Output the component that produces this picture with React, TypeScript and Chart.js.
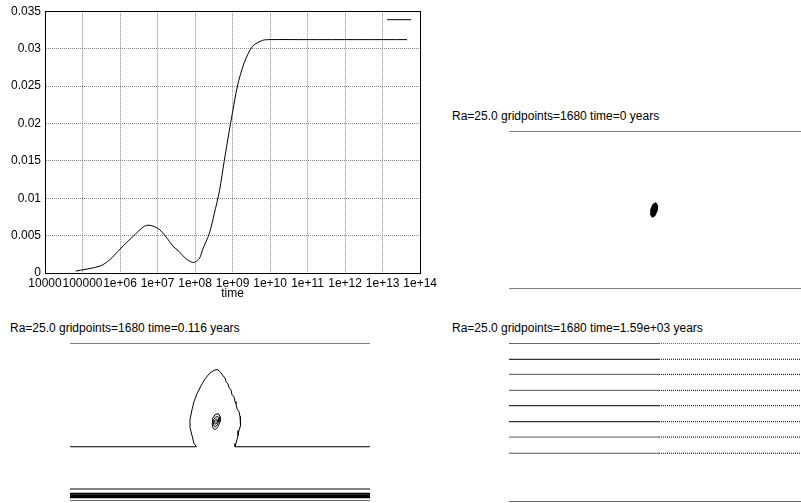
import React, { useEffect, useRef } from "react";
import { Chart, registerables } from "chart.js";

Chart.register(...registerables);

const FONT_FAMILY = "'Liberation Sans', Arial, Helvetica, sans-serif";

// ---------- Main time series ----------
const times = [6.6e4, 2.9e5, 5.4e5, 1e6, 2.24e6, 5.0e6, 1e7, 1.7e7, 2.57e7, 3.8e7, 5.75e7, 9.1e7, 1.32e8, 1.58e8, 2.4e8, 3.24e8, 4.47e8, 6.0e8, 8.1e8, 1e9, 1.35e9, 2.04e9, 3.4e9, 6.3e9, 1e10, 1e11, 4.47e13];
const values = [0.00026, 0.00092, 0.0018, 0.0032, 0.0049, 0.00636, 0.006, 0.0048, 0.0036, 0.00285, 0.0019, 0.0014, 0.002, 0.0031, 0.0053, 0.0079, 0.011, 0.015, 0.0189, 0.0215, 0.025, 0.0281, 0.0303, 0.0311, 0.0312, 0.0312, 0.0312];
const xTickValues = [1e4, 1e5, 1e6, 1e7, 1e8, 1e9, 1e10, 1e11, 1e12, 1e13, 1e14];
const xTickLabels = ["10000", "100000", "1e+06", "1e+07", "1e+08", "1e+09", "1e+10", "1e+11", "1e+12", "1e+13", "1e+14"];
const yTickValues = [0, 0.005, 0.01, 0.015, 0.02, 0.025, 0.03, 0.035];
const yTickLabels = ["0", "0.005", "0.01", "0.015", "0.02", "0.025", "0.03", "0.035"];
const xAxisTitle = "time";

// ---------- Contour panels ----------
const titleB = "Ra=25.0 gridpoints=1680 time=0 years";
const titleC = "Ra=25.0 gridpoints=1680 time=0.116 years";
const titleD = "Ra=25.0 gridpoints=1680 time=1.59e+03 years";

const xDomain = [0, 1];

// Panel B (time = 0)
const bBoundaryLevels = [1, 0];
const bBlob: [number, number][] = [
  [0.4893, 0.5465], [0.4951, 0.5292], [0.494, 0.4949], [0.4866, 0.4637],
  [0.4773, 0.4535], [0.4715, 0.4708], [0.4726, 0.5051], [0.48, 0.5363], [0.4893, 0.5465],
];

// Panel C (time = 0.116)
const cBoundaryLevels = [1, 0];
const cThinLevel = 0.0744;
const cBandLevels = [0.02, 0.027, 0.034, 0.041, 0.047];
const cMidContour: [number, number][] = [
  [0, 0.343], [0.4217, 0.343], [0.4133, 0.364], [0.4067, 0.415], [0.4, 0.465], [0.4, 0.516],
  [0.4067, 0.579], [0.4133, 0.63], [0.4233, 0.68], [0.4367, 0.731], [0.45, 0.775], [0.4667, 0.813],
  [0.48, 0.829], [0.49, 0.835], [0.4967, 0.826], [0.5033, 0.813], [0.51, 0.794], [0.5167, 0.782],
  [0.52, 0.756], [0.5267, 0.744], [0.53, 0.718], [0.5367, 0.706], [0.54, 0.674], [0.5467, 0.661],
  [0.55, 0.63], [0.5533, 0.617], [0.5567, 0.585], [0.5633, 0.566], [0.5667, 0.535], [0.57, 0.516],
  [0.5667, 0.478], [0.5633, 0.446], [0.56, 0.415], [0.5567, 0.389], [0.5533, 0.364], [0.55, 0.343],
  [1, 0.343],
];
const cLoopOuter: [number, number][] = [
  [0.495, 0.554], [0.5, 0.535], [0.5, 0.503], [0.4934, 0.471], [0.4834, 0.452],
  [0.4767, 0.462], [0.4734, 0.49], [0.475, 0.522], [0.4834, 0.547], [0.495, 0.554],
];
const cLoopMid: [number, number][] = [
  [0.492, 0.536], [0.4954, 0.523], [0.4954, 0.503], [0.491, 0.483], [0.4847, 0.47],
  [0.48, 0.476], [0.478, 0.495], [0.479, 0.516], [0.4847, 0.531], [0.492, 0.536],
];
const cLoopInner: [number, number][] = [
  [0.4894, 0.519], [0.491, 0.513], [0.491, 0.503], [0.4887, 0.493], [0.4857, 0.487],
  [0.4834, 0.49], [0.4824, 0.499], [0.483, 0.509], [0.4857, 0.518], [0.4894, 0.519],
];

// Panel D (time = 1.59e+03)
const dLevels = [1.0, 0.899, 0.804, 0.703, 0.606, 0.505, 0.408, 0.306];
const dSplit = 0.5;
const dBottomLevel = 0;
const dSolidColors = ["#000", "#000", "#555", "#555", "#000", "#000", "#555", "#555"];

// ---------- helpers ----------
const hline = (y: number, x0: number, x1: number, color = "#000", width = 1, dash: number[] = []) => ({
  data: [{ x: x0, y }, { x: x1, y }],
  showLine: true,
  pointRadius: 0,
  borderColor: color,
  borderWidth: width,
  borderDash: dash,
  fill: false,
});
const pathDs = (pts: [number, number][], color = "#000", width = 1, fill: any = false) => ({
  data: pts.map(([x, y]) => ({ x, y })),
  showLine: true,
  pointRadius: 0,
  borderColor: color,
  backgroundColor: color,
  borderWidth: width,
  fill,
});

const framePlugin = {
  id: "frameAndKey",
  afterDraw(chart: any) {
    const { ctx, chartArea } = chart;
    const a = (v: number) => Math.round(v - 0.5) + 0.5;
    ctx.save();
    ctx.strokeStyle = "#000";
    ctx.lineWidth = 1;
    ctx.setLineDash([]);
    ctx.strokeRect(a(chartArea.left), a(chartArea.top), a(chartArea.right) - a(chartArea.left), a(chartArea.bottom) - a(chartArea.top));
    // key sample line (empty title)
    ctx.beginPath();
    ctx.moveTo(chartArea.right - 33, chartArea.top + 8.5);
    ctx.lineTo(chartArea.right - 9, chartArea.top + 8.5);
    ctx.strokeStyle = "#000";
    ctx.stroke();
    ctx.restore();
  },
};

function MainChart() {
  const ref = useRef<HTMLCanvasElement>(null);
  useEffect(() => {
    const font = { family: FONT_FAMILY, size: 12 };
    const chart = new Chart(ref.current!, {
      type: "scatter",
      data: {
        datasets: [
          {
            data: times.map((t, i) => ({ x: t, y: values[i] })),
            showLine: true,
            pointRadius: 0,
            borderColor: "#000",
            borderWidth: 1,
            tension: 0.3,
            fill: false,
          } as any,
        ],
      },
      options: {
        animation: false,
        responsive: false,
        events: [],
        layout: { padding: { top: 7.5, right: 19, left: 0, bottom: 0 } },
        plugins: { legend: { display: false }, tooltip: { enabled: false } },
        scales: {
          x: {
            type: "logarithmic",
            min: 1e4,
            max: 1e14,
            afterBuildTicks: (s: any) => {
              s.ticks = xTickValues.map((v) => ({ value: v }));
            },
            afterFit: (s: any) => {
              s.height = 32;
            },
            ticks: {
              callback: (_v: any, i: number) => xTickLabels[i],
              autoSkip: false,
              maxRotation: 0,
              minRotation: 0,
              font,
              color: "#000",
              padding: 3,
            },
            grid: { color: "#888", drawTicks: false, lineWidth: 1 },
            border: { display: true, color: "#000", dash: [1, 1] },
            title: { display: true, text: xAxisTitle, font, color: "#000", padding: { top: 0, bottom: 4 } },
          },
          y: {
            type: "linear",
            min: 0,
            max: 0.035,
            afterBuildTicks: (s: any) => {
              s.ticks = yTickValues.map((v) => ({ value: v }));
            },
            afterFit: (s: any) => {
              s.width = 45;
            },
            ticks: {
              callback: (_v: any, i: number) => yTickLabels[i],
              font,
              color: "#000",
              padding: 4,
            },
            grid: { color: "#888", drawTicks: false, lineWidth: 1 },
            border: { display: true, color: "#000", dash: [1, 1] },
          },
        },
      } as any,
      plugins: [framePlugin],
    });
    return () => chart.destroy();
  }, []);
  return <canvas ref={ref} width={440} height={305} style={{ position: "absolute", left: 0, top: 0, width: 440, height: 305 }} />;
}

type PanelProps = {
  left: number;
  top: number;
  width: number;
  height: number;
  padding: { top: number; right: number; bottom: number; left: number };
  xMax: number;
  datasets: any[];
};

function Panel({ left, top, width, height, padding, xMax, datasets }: PanelProps) {
  const ref = useRef<HTMLCanvasElement>(null);
  useEffect(() => {
    const chart = new Chart(ref.current!, {
      type: "scatter",
      data: { datasets },
      options: {
        animation: false,
        responsive: false,
        events: [],
        layout: { padding },
        plugins: { legend: { display: false }, tooltip: { enabled: false } },
        scales: {
          x: { type: "linear", display: false, min: 0, max: xMax },
          y: { type: "linear", display: false, min: 0, max: 1 },
        },
        elements: { line: { tension: 0 } },
      } as any,
    });
    return () => chart.destroy();
  }, []);
  return <canvas ref={ref} width={width} height={height} style={{ position: "absolute", left, top, width, height }} />;
}

function Title({ text, left, top }: { text: string; left: number; top: number }) {
  return (
    <div
      style={{
        position: "absolute",
        left,
        top,
        fontFamily: FONT_FAMILY,
        fontSize: 12,
        lineHeight: "14px",
        whiteSpace: "nowrap",
        color: "#000",
      }}
    >
      {text}
    </div>
  );
}

export default function App() {
  const dsB = [
    ...bBoundaryLevels.map((lv) => hline(lv, xDomain[0], xDomain[1], "#000", 1)),
    pathDs(bBlob, "#000", 1, "shape"),
  ];
  const dsC = [
    ...cBoundaryLevels.map((lv) => hline(lv, xDomain[0], xDomain[1], "#000", 1)),
    hline(cThinLevel, xDomain[0], xDomain[1], "#000", 1),
    ...cBandLevels.map((lv) => hline(lv, xDomain[0], xDomain[1], "#000", 1.2)),
    pathDs(cMidContour, "#000", 1),
    pathDs(cLoopOuter, "#000", 1),
    pathDs(cLoopMid, "#000", 1),
    pathDs(cLoopInner, "#000", 1),
  ];
  const dsD = [
    ...dLevels.map((lv, i) => hline(lv, xDomain[0], dSplit, dSolidColors[i], 1)),
    ...dLevels.map((lv) => hline(lv, dSplit, xDomain[1], "#000", 1, [1, 1])),
    hline(dBottomLevel, xDomain[0], xDomain[1], "#000", 1),
  ];
  return (
    <div>
      <MainChart />
      <Title text={titleB} left={452} top={109} />
      <Panel left={506} top={128} width={295} height={164} padding={{ top: 3.5, right: 0, bottom: 3.5, left: 3 }} xMax={292 / 300} datasets={dsB} />
      <Title text={titleC} left={10} top={321} />
      <Panel left={67} top={340} width={306} height={163} padding={{ top: 3.5, right: 3, bottom: 2.3, left: 3 }} xMax={1} datasets={dsC} />
      <Title text={titleD} left={452} top={321} />
      <Panel left={506} top={340} width={295} height={163} padding={{ top: 3.3, right: 0, bottom: 1.3, left: 3 }} xMax={292 / 300} datasets={dsD} />
    </div>
  );
}
